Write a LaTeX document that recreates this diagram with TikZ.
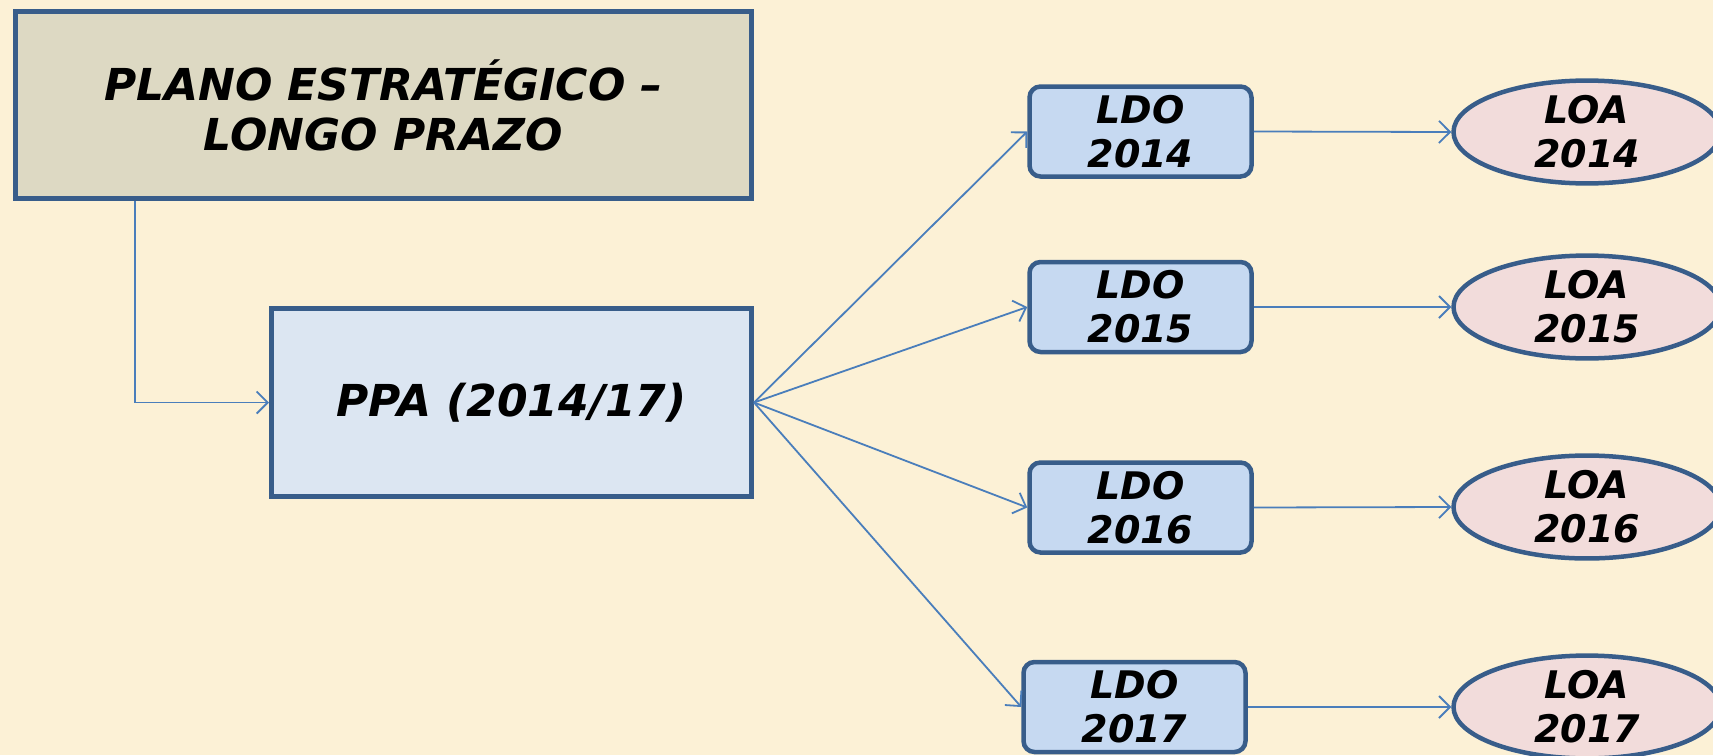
\documentclass[tikz,border=0pt]{standalone}
\usepackage{fontspec}
\setmainfont{DejaVu Sans}
\usetikzlibrary{arrows.meta,shapes.geometric}
\definecolor{bgc}{RGB}{252,241,214}
\definecolor{edge}{RGB}{56,93,138}
\definecolor{conn}{RGB}{74,126,187}
\definecolor{topfill}{RGB}{221,217,195}
\definecolor{ppafill}{RGB}{220,230,242}
\definecolor{ldofill}{RGB}{198,217,241}
\definecolor{loafill}{RGB}{242,220,219}
\tikzset{
  bigbox/.style={draw=edge, line width=5pt, align=center, inner sep=0pt,
    font=\fontsize{44}{50}\selectfont\bfseries\itshape},
  ldobox/.style={draw=edge, fill=ldofill, line width=4.5pt, rounded corners=11pt,
    minimum width=222pt, minimum height=90pt, align=center, inner sep=0pt,
    font=\fontsize{38}{44}\selectfont\bfseries\itshape},
  loaell/.style={ellipse, draw=edge, fill=loafill, line width=4.5pt,
    minimum width=267pt, minimum height=91pt, align=center, inner sep=0pt,
    font=\fontsize{38}{44}\selectfont\bfseries\itshape},
  conn/.style={draw=conn, line width=1.8pt, -{Straight Barb[length=11pt,width=22pt]}}
}
\begin{document}
\begin{tikzpicture}[x=1pt,y=-1pt]
\useasboundingbox (0,0) rectangle (1713,755);
\clip (0,0) rectangle (1713,755);
\fill[bgc] (0,0) rectangle (1713,755);
\node[bigbox, fill=topfill, minimum width=736pt, minimum height=187pt] (plano) at (383.5,105) {PLANO ESTRATÉGICO –\\LONGO PRAZO};
\node[bigbox, fill=ppafill, minimum width=480pt, minimum height=188pt] (ppa) at (511.5,402.5) {PPA (2014/17)};
\node[ldobox] (ldo14) at (1140.5,131.5) {LDO\\2014};
\node[ldobox] (ldo15) at (1140.5,307) {LDO\\2015};
\node[ldobox] (ldo16) at (1140.5,507.5) {LDO\\2016};
\node[ldobox] (ldo17) at (1134.5,707) {LDO\\2017};
\node[loaell] (loa14) at (1587,132) {LOA\\2014};
\node[loaell] (loa15) at (1587,307) {LOA\\2015};
\node[loaell] (loa16) at (1587,507) {LOA\\2016};
\node[loaell] (loa17) at (1587,707) {LOA\\2017};
\coordinate (pl) at (135,201);
\draw[conn] (plano.south -| pl) |- (ppa.west);
\draw[conn] (ppa.east) -- (ldo14.west);
\draw[conn] (ppa.east) -- (ldo15.west);
\draw[conn] (ppa.east) -- (ldo16.west);
\draw[conn] (ppa.east) -- (ldo17.west);
\draw[conn] (ldo14.east) -- (loa14.west);
\draw[conn] (ldo15.east) -- (loa15.west);
\draw[conn] (ldo16.east) -- (loa16.west);
\draw[conn] (ldo17.east) -- (loa17.west);
\end{tikzpicture}
\end{document}
